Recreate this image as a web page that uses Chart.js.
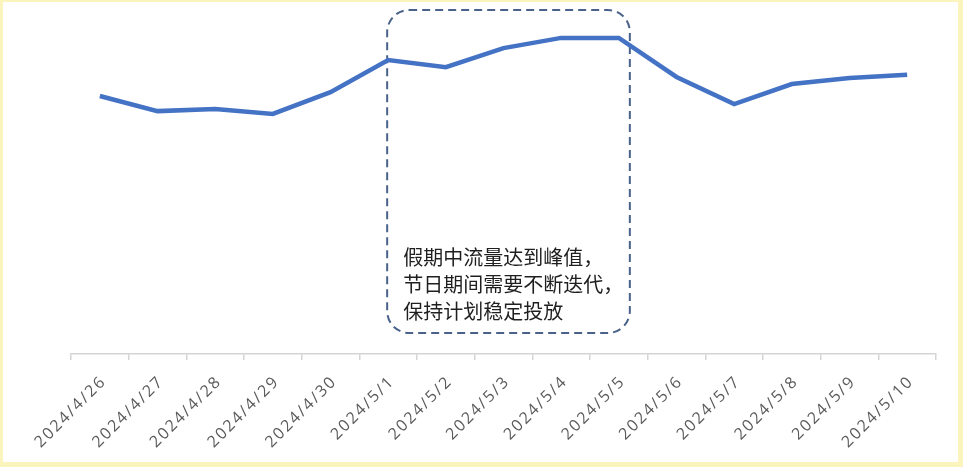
<!DOCTYPE html>
<html>
<head>
<meta charset="utf-8">
<script src="https://cdn.jsdelivr.net/npm/chart.js@4"></script>
<style>
  html, body { margin: 0; padding: 0; background: #fbf5bd; }
  #wrap { position: absolute; left: 3px; top: 2px; width: 955px; height: 460px; background: #fff; }
  canvas { display: block; }
</style>
</head>
<body>
<div id="wrap"><canvas id="myChart" width="955" height="460"></canvas></div>
<script>
'use strict';
// dates on the x axis
let days = ['2024/4/26', '2024/4/27', '2024/4/28', '2024/4/29', '2024/4/30',
    '2024/5/1', '2024/5/2', '2024/5/3', '2024/5/4', '2024/5/5',
    '2024/5/6', '2024/5/7', '2024/5/8', '2024/5/9', '2024/5/10'];
// traffic (no y axis in the picture, so relative units 0-1000)
let traffic = [733, 690, 696, 682, 744, 835, 815, 869, 898, 898, 787, 710, 767, 784, 793];
let yMin = 0;
let yMax = 1000;
// note box spans from 5/1 to 5/5
let noteFrom = '2024/5/1';
let noteTo = '2024/5/5';
let noteLines = ['假期中流量达到峰值，', '节日期间需要不断迭代，', '保持计划稳定投放'];

// labels in the picture are spaced out a bit
let spacing = {
    id: 'spacing',
    beforeUpdate(chart) { chart.ctx.letterSpacing = '2px'; },
    beforeDraw(chart) { chart.ctx.letterSpacing = '2px'; }
};

let noteBox = {
    id: 'noteBox',
    beforeDatasetsDraw(chart) {
        let ctx = chart.ctx;
        let x = chart.scales.x;
        let area = chart.chartArea;
        let left = x.getPixelForValue(days.indexOf(noteFrom)) - 1;
        let right = x.getPixelForValue(days.indexOf(noteTo)) + 11;
        let top = area.top + 8;
        let bottom = area.bottom - 21;
        ctx.save();
        ctx.letterSpacing = '0px';
        ctx.strokeStyle = '#4a6289';
        ctx.lineWidth = 2;
        ctx.setLineDash([8, 5]);
        ctx.beginPath();
        ctx.roundRect(left, top, right - left, bottom - top, 22);
        ctx.stroke();
        ctx.setLineDash([]);
        ctx.fillStyle = '#1f1f1f';
        ctx.font = '20px "Noto Sans CJK SC"';
        ctx.textBaseline = 'middle';
        for (let i = 0; i < noteLines.length; i++) {
            ctx.fillText(noteLines[i], left + 16, bottom - 76 + i * 27);
        }
        ctx.restore();
    }
};

let ctx = document.getElementById('myChart').getContext('2d');
let myChart = new Chart(ctx, {
    type: 'line',
    data: {
        labels: days,
        datasets: [{
            data: traffic,
            borderColor: '#4472c4',
            borderWidth: 4.5,
            pointRadius: 0,
            tension: 0,
            fill: false
        }]
    },
    options: {
        responsive: false,
        animation: false,
        devicePixelRatio: 1,
        layout: { padding: { left: 68, right: 22, top: 0, bottom: 0 } },
        plugins: { legend: { display: false }, tooltip: { enabled: false } },
        scales: {
            x: {
                offset: true,
                grid: { offset: true, drawOnChartArea: false, drawTicks: true, tickLength: 6, color: '#d4d4d4', lineWidth: 1.5 },
                border: { color: '#d4d4d4', width: 1.5 },
                ticks: {
                    color: '#5a5a5a',
                    font: { family: 'Open Sans', size: 16 },
                    minRotation: 45,
                    maxRotation: 45,
                    autoSkip: false,
                    padding: 12,
                    labelOffset: 4
                },
                afterFit(scale) { scale.height = 108; }
            },
            y: { display: false, min: yMin, max: yMax }
        }
    },
    plugins: [spacing, noteBox]
});
</script>
</body>
</html>
